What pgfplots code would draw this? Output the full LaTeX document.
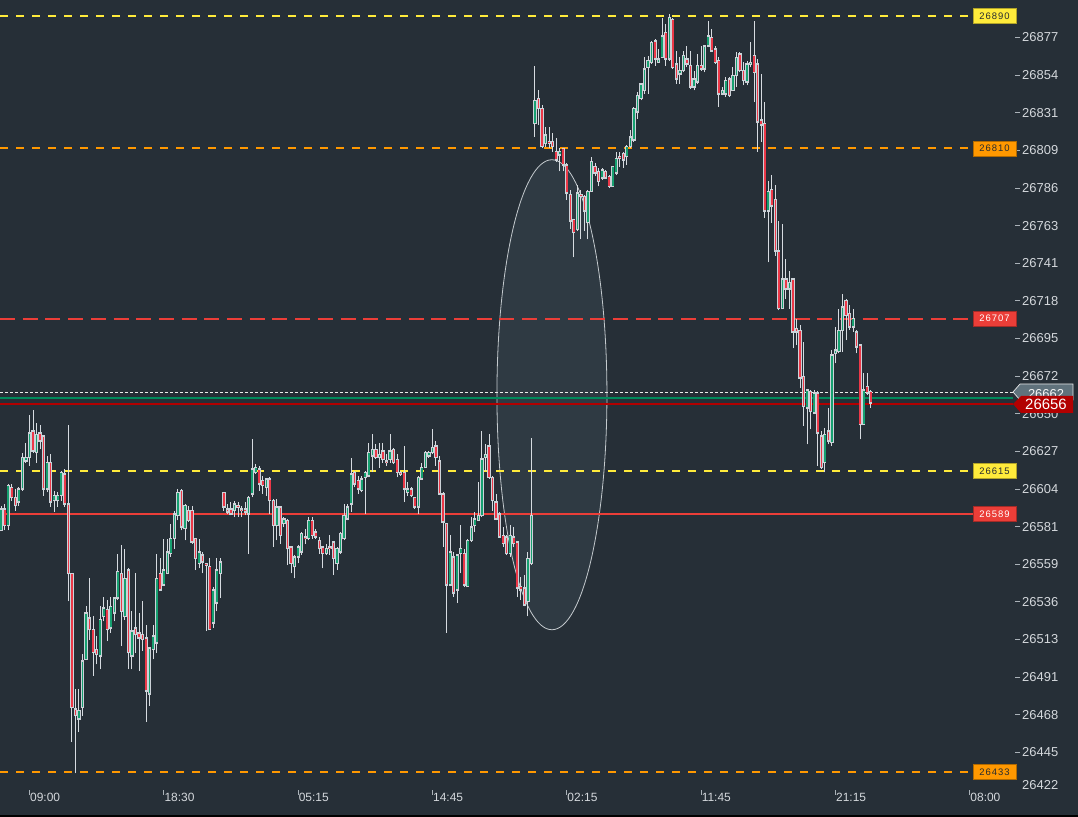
\documentclass[border=0pt]{standalone}
\usepackage{fontspec}
\setmainfont{Liberation Sans}
\newfontfamily\lblfont[LetterSpace=10]{Liberation Sans}
\usepackage{pgfplots}
\pgfplotsset{compat=1.18}
\usepackage{pgfplotstable}

\definecolor{bg}{RGB}{38,47,55}
\definecolor{axtext}{RGB}{212,216,220}
\definecolor{tickc}{RGB}{170,178,184}
\definecolor{wickc}{RGB}{214,219,224}
\definecolor{bodyc}{RGB}{204,210,216}
\definecolor{upc}{RGB}{22,160,112}
\definecolor{downc}{RGB}{236,56,72}
\definecolor{lyellow}{RGB}{255,235,59}
\definecolor{lorange}{RGB}{255,152,0}
\definecolor{lred}{RGB}{235,62,56}
\definecolor{ltext}{RGB}{40,44,48}
\definecolor{curgreen}{RGB}{0,138,92}
\definecolor{curred}{RGB}{178,0,0}
\definecolor{taggrey}{RGB}{96,114,124}
\definecolor{ellfill}{RGB}{120,144,156}
\definecolor{ellline}{RGB}{196,202,206}

% one row per candle: index, open, high, low, close
\pgfplotstableread{
i o h l c
0 26579 26594 26579 26592
1 26592 26595 26579 26582
2 26582 26607 26579 26606
3 26605 26607 26597 26599
4 26599 26604 26591 26594
5 26596 26605 26594 26604
6 26604 26626 26603 26623
7 26621 26632 26620 26623
8 26623 26649 26618 26638
9 26639 26652 26626 26627
10 26626 26644 26620 26637
11 26638 26643 26628 26633
12 26636 26636 26600 26604
13 26604 26624 26602 26620
14 26620 26625 26593 26596
15 26597 26603 26590 26600
16 26597 26602 26593 26600
17 26600 26615 26597 26614
18 26613 26616 26593 26595
19 26595 26643 26536 26553
20 26553 26553 26451 26472
21 26471 26483 26432 26467
22 26465 26483 26457 26470
23 26472 26504 26467 26500
24 26501 26533 26501 26529
25 26526 26550 26513 26519
26 26519 26527 26491 26505
27 26507 26515 26498 26504
28 26503 26533 26495 26525
29 26527 26539 26524 26532
30 26531 26537 26512 26519
31 26520 26539 26517 26533
32 26529 26539 26524 26538
33 26538 26565 26537 26554
34 26553 26570 26509 26530
35 26527 26568 26525 26550
36 26555 26556 26495 26505
37 26503 26530 26495 26518
38 26520 26553 26505 26516
39 26517 26529 26494 26514
40 26516 26536 26506 26513
41 26514 26522 26463 26482
42 26480 26508 26473 26508
43 26507 26522 26501 26515
44 26511 26565 26505 26550
45 26553 26562 26543 26543
46 26546 26574 26546 26555
47 26553 26574 26553 26566
48 26565 26583 26563 26574
49 26574 26591 26568 26589
50 26588 26604 26585 26602
51 26603 26604 26579 26581
52 26580 26595 26573 26594
53 26591 26594 26584 26585
54 26591 26594 26571 26572
55 26574 26574 26555 26562
56 26559 26574 26556 26566
57 26564 26566 26553 26560
58 26559 26559 26518 26558
59 26557 26562 26519 26519
60 26523 26545 26520 26543
61 26535 26562 26530 26555
62 26553 26562 26538 26560
63 26602 26602 26591 26593
64 26592 26595 26589 26590
65 26592 26596 26588 26589
66 26591 26597 26587 26595
67 26594 26596 26587 26593
68 26592 26594 26587 26591
69 26592 26596 26588 26590
70 26589 26600 26565 26599
71 26601 26634 26599 26616
72 26614 26619 26613 26617
73 26616 26618 26603 26607
74 26609 26612 26601 26606
75 26605 26610 26600 26610
76 26610 26611 26589 26597
77 26597 26598 26569 26582
78 26582 26598 26573 26593
79 26593 26594 26571 26576
80 26583 26587 26581 26586
81 26585 26586 26558 26568
82 26569 26569 26553 26559
83 26557 26564 26550 26563
84 26563 26570 26559 26569
85 26566 26578 26564 26577
86 26575 26580 26571 26574
87 26574 26587 26573 26585
88 26585 26587 26574 26576
89 26578 26580 26574 26575
90 26573 26575 26565 26568
91 26569 26569 26556 26565
92 26565 26571 26564 26568
93 26569 26576 26564 26568
94 26572 26572 26552 26562
95 26559 26569 26555 26568
96 26566 26578 26565 26577
97 26574 26595 26573 26588
98 26586 26595 26585 26593
99 26595 26623 26590 26613
100 26614 26615 26605 26607
101 26609 26612 26601 26604
102 26603 26612 26602 26610
103 26611 26615 26589 26614
104 26612 26632 26611 26626
105 26624 26637 26614 26628
106 26628 26631 26622 26623
107 26623 26632 26617 26625
108 26627 26632 26620 26622
109 26621 26625 26618 26620
110 26622 26637 26620 26627
111 26628 26629 26619 26620
112 26622 26625 26611 26614
113 26614 26615 26612 26613
114 26614 26630 26596 26604
115 26602 26608 26600 26604
116 26604 26605 26599 26600
117 26599 26599 26592 26593
118 26593 26612 26589 26611
119 26610 26620 26610 26617
120 26617 26627 26617 26626
121 26624 26627 26623 26626
122 26626 26640 26625 26629
123 26630 26633 26618 26623
124 26621 26624 26601 26601
125 26601 26602 26569 26584
126 26583 26583 26517 26546
127 26546 26576 26546 26566
128 26563 26566 26539 26541
129 26543 26565 26535 26564
130 26565 26582 26553 26568
131 26565 26568 26545 26546
132 26545 26574 26545 26573
133 26573 26587 26572 26581
134 26582 26590 26578 26586
135 26585 26608 26585 26588
136 26588 26639 26587 26622
137 26623 26631 26615 26625
138 26630 26637 26610 26611
139 26611 26612 26591 26597
140 26596 26601 26585 26586
141 26589 26590 26575 26575
142 26576 26581 26569 26571
143 26575 26576 26564 26565
144 26565 26582 26563 26576
145 26575 26581 26569 26571
146 26572 26572 26539 26544
147 26545 26551 26537 26543
148 26544 26552 26533 26534
149 26536 26566 26527 26562
150 26559 26635 26558 26588
151 26825 26860 26817 26839
152 26840 26845 26824 26834
153 26834 26836 26810 26811
154 26813 26823 26811 26818
155 26814 26823 26810 26813
156 26814 26819 26808 26811
157 26808 26816 26802 26803
158 26806 26810 26796 26808
159 26810 26810 26796 26800
160 26800 26801 26779 26783
161 26782 26785 26761 26766
162 26767 26767 26744 26759
163 26761 26788 26760 26783
164 26782 26785 26755 26781
165 26781 26782 26760 26772
166 26765 26785 26755 26784
167 26784 26805 26784 26802
168 26799 26801 26793 26795
169 26796 26798 26787 26790
170 26792 26798 26791 26797
171 26796 26797 26792 26792
172 26793 26794 26786 26787
173 26787 26799 26787 26799
174 26795 26808 26794 26804
175 26805 26808 26799 26804
176 26807 26808 26798 26803
177 26805 26812 26800 26811
178 26811 26821 26810 26817
179 26815 26835 26814 26834
180 26832 26844 26828 26842
181 26840 26849 26839 26849
182 26845 26865 26843 26858
183 26859 26866 26843 26863
184 26862 26875 26861 26874
185 26875 26876 26860 26864
186 26862 26870 26862 26864
187 26865 26889 26865 26878
188 26880 26885 26860 26864
189 26864 26891 26863 26889
190 26888 26889 26858 26859
191 26861 26869 26849 26852
192 26855 26865 26849 26857
193 26857 26869 26856 26866
194 26864 26872 26859 26861
195 26860 26869 26846 26847
196 26847 26857 26845 26852
197 26850 26867 26849 26860
198 26860 26872 26857 26858
199 26858 26872 26856 26872
200 26872 26887 26871 26878
201 26877 26882 26869 26869
202 26870 26872 26861 26862
203 26863 26865 26835 26843
204 26843 26847 26842 26845
205 26843 26853 26841 26851
206 26852 26853 26841 26842
207 26845 26859 26845 26854
208 26854 26868 26847 26865
209 26867 26868 26856 26857
210 26857 26862 26848 26851
211 26850 26863 26848 26861
212 26861 26874 26859 26862
213 26866 26887 26838 26856
214 26861 26864 26808 26826
215 26827 26855 26814 26824
216 26825 26838 26768 26772
217 26772 26790 26741 26784
218 26785 26794 26765 26775
219 26779 26788 26745 26748
220 26748 26766 26712 26713
221 26713 26764 26713 26731
222 26731 26743 26719 26725
223 26725 26736 26713 26729
224 26731 26731 26689 26699
225 26701 26707 26691 26699
226 26700 26703 26665 26671
227 26672 26693 26642 26654
228 26653 26664 26631 26664
229 26663 26664 26640 26651
230 26650 26664 26650 26662
231 26662 26663 26618 26638
232 26636 26639 26616 26617
233 26620 26641 26614 26637
234 26639 26653 26631 26633
235 26632 26688 26630 26685
236 26686 26702 26680 26688
237 26687 26713 26686 26700
238 26700 26722 26687 26714
239 26718 26719 26694 26709
240 26710 26715 26700 26702
241 26702 26713 26699 26707
242 26699 26700 26686 26690
243 26691 26691 26634 26643
244 26643 26674 26643 26664
245 26666 26674 26661 26662
246 26663 26664 26653 26656
}\candles

\begin{document}
\begin{tikzpicture}
\useasboundingbox (0,0) rectangle (1078bp,817bp);
\fill[bg] (0,0) rectangle (1078bp,817bp);
\fill[black] (0,0) rectangle (1078bp,2bp);

\begin{axis}[
    at={(0,27bp)}, anchor=south west,
    scale only axis,
    width=1015bp, height=790bp,
    xmin=-0.34, xmax=286.8,
    ymin=26422, ymax=26899.7,
    clip=false,
    axis x line*=bottom, axis y line*=right,
    axis line style={draw=none},
    tick align=outside,
    major tick length=5bp,
    tick style={draw=tickc, line width=0.8bp},
    xtick={8,46,84,122,160,198,236,274},
    xticklabels={09:00,18:30,05:15,14:45,02:15,11:45,21:15,08:00},
    xticklabel style={anchor=north west, inner sep=0pt, xshift=0.5bp, yshift=2bp,
        font=\fontsize{12}{12}\selectfont, text=axtext},
    ytick={26877,26854.25,26831.5,26808.75,26786,26763.25,26740.5,26717.75,26695,26672.25,
           26649.5,26626.75,26604,26581.25,26558.5,26535.75,26513,26490.25,26467.5,26444.75},
    yticklabels={26877,26854,26831,26809,26786,26763,26741,26718,26695,26672,
                 26650,26627,26604,26581,26559,26536,26513,26491,26468,26445},
    yticklabel style={anchor=west, inner sep=0pt, xshift=2bp,
        font=\fontsize{13}{13}\selectfont, text=axtext},
    extra y ticks={26422},
    extra y tick labels={26422},
    extra y tick style={tick style={draw=none}, yticklabel style={yshift=5bp}},
]

% highlighted zone
\fill[ellfill, fill opacity=0.12] (axis cs:155.8,26661) ellipse [x radius=55bp, y radius=235bp];
\draw[ellline, line width=0.8bp] (axis cs:155.8,26661) ellipse [x radius=55bp, y radius=235bp];

% level lines
\addplot[lyellow, line width=2bp, dash pattern=on 8bp off 8bp, forget plot] coordinates {(-0.34,26890) (274.9,26890)};
\addplot[lorange, line width=2bp, dash pattern=on 8bp off 8bp, forget plot] coordinates {(-0.34,26810) (274.9,26810)};
\addplot[lred, line width=2bp, dash pattern=on 15bp off 7.7bp, forget plot] coordinates {(-0.34,26707) (274.9,26707)};
\addplot[lyellow, line width=2bp, dash pattern=on 8bp off 8bp, forget plot] coordinates {(-0.34,26615) (274.9,26615)};
\addplot[lred, line width=1.6bp, forget plot] coordinates {(-0.34,26589) (274.9,26589)};
\addplot[lorange, line width=2bp, dash pattern=on 8bp off 8bp, forget plot] coordinates {(-0.34,26433) (274.9,26433)};
\addplot[white!85!gray, line width=0.8bp, dash pattern=on 2.5bp off 2.5bp, forget plot] coordinates {(-0.34,26662.5) (286.2,26662.5)};
\addplot[curgreen, line width=1.5bp, forget plot] coordinates {(-0.34,26659) (286.2,26659)};
\addplot[curred, line width=1.5bp, forget plot] coordinates {(-0.34,26655.3) (286.2,26655.3)};

% wicks
\addplot[draw=none, mark=none, forget plot,
    error bars/.cd, y dir=plus, y explicit, error mark=none,
    error bar style={draw=wickc, line width=1bp}]
    table[x=i, y=l, y error plus expr={\thisrow{h}-\thisrow{l}}] {\candles};
% body outline
\addplot[draw=none, mark=none, forget plot,
    error bars/.cd, y dir=plus, y explicit, error mark=none,
    error bar style={draw=bodyc, line width=3.2bp}]
    table[x=i, y expr={min(\thisrow{o},\thisrow{c})-0.45},
          y error plus expr={abs(\thisrow{c}-\thisrow{o})+0.9}] {\candles};
% rising bodies
\addplot[draw=none, mark=none, forget plot,
    error bars/.cd, y dir=plus, y explicit, error mark=none,
    error bar style={draw=upc, line width=1.6bp}]
    table[x=i, y expr={\thisrow{o}+0.45},
          y error plus expr={max(\thisrow{c}-\thisrow{o}-0.9,0)}] {\candles};
% falling bodies
\addplot[draw=none, mark=none, forget plot,
    error bars/.cd, y dir=plus, y explicit, error mark=none,
    error bar style={draw=downc, line width=1.6bp}]
    table[x=i, y expr={\thisrow{c}+0.45},
          y error plus expr={max(\thisrow{o}-\thisrow{c}-0.9,0)}] {\candles};

% level price boxes
\tikzset{lvl/.style={minimum width=43bp, minimum height=15bp, inner sep=0pt, line width=0.6bp,
    font=\lblfont\fontsize{9.5}{9.5}\selectfont}}
\node[lvl, fill=lyellow, draw=lyellow!70!black, text=ltext] at (axis cs:281,26890) {26890};
\node[lvl, fill=lorange, draw=lorange!70!black, text=ltext] at (axis cs:281,26810) {26810};
\node[lvl, fill=lred, draw=lred!70!black, text=white] at (axis cs:281,26707) {26707};
\node[lvl, fill=lyellow, draw=lyellow!70!black, text=ltext] at (axis cs:281,26615) {26615};
\node[lvl, fill=lred, draw=lred!70!black, text=white] at (axis cs:281,26589) {26589};
\node[lvl, fill=lorange, draw=lorange!70!black, text=ltext] at (axis cs:281,26433) {26433};
\end{axis}

% current price tags
\filldraw[fill=taggrey, draw=white!80!gray, line width=0.7bp]
    (1013bp,425bp) -- (1020bp,433bp) -- (1073bp,433bp) -- (1073bp,417bp) -- (1020bp,417bp) -- cycle;
\node[text=white!92!gray, font=\fontsize{13}{13}\selectfont, inner sep=0pt] at (1046bp,423bp) {26662};
\fill[curred] (1013bp,413bp) -- (1021bp,421bp) -- (1073bp,421bp) -- (1073bp,404bp) -- (1021bp,404bp) -- cycle;
\node[text=white, font=\fontsize{15}{15}\selectfont, inner sep=0pt] at (1046bp,412.5bp) {26656};
\end{tikzpicture}
\end{document}
